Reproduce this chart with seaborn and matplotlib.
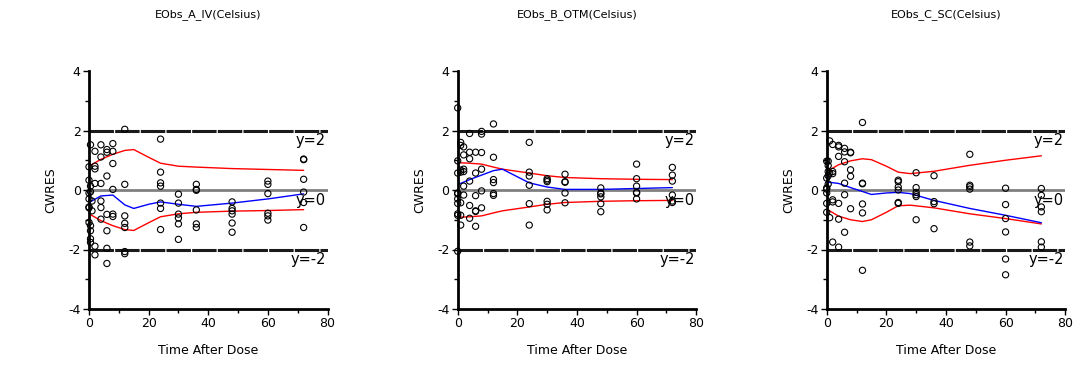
import matplotlib
matplotlib.use("Agg")
import matplotlib.pyplot as plt
from matplotlib.ticker import MultipleLocator
import seaborn as sns
import pandas as pd

sns.set_theme(style="white")
plt.rcParams['font.family'] = ['DejaVu Sans']
plt.rcParams['axes.unicode_minus'] = False

titles = ["EObs_A_IV(Celsius)", "EObs_B_OTM(Celsius)", "EObs_C_SC(Celsius)"]

# ---- Panel A ----
A_time = [0, 0, 0, 0, 0, 0, 0, 0.5, 0.5, 0.5, 0.5, 0.5, 0.5, 0.5, 1, 1,
          2, 2, 2, 2, 2, 2,
          4, 4, 4, 4, 4, 4,
          6, 6, 6, 6, 6, 6, 6,
          8, 8, 8, 8, 8, 8,
          12, 12, 12, 12, 12, 12, 12,
          24, 24, 24, 24, 24, 24, 24,
          30, 30, 30, 30, 30, 30,
          36, 36, 36, 36, 36, 36,
          48, 48, 48, 48, 48, 48,
          60, 60, 60, 60, 60, 60,
          72, 72, 72, 72, 72, 72]
A_cwres = [0.78, 0.33, -0.1, -0.3, -0.57, -1.09, -0.6, 1.52, 0.13, -0.06, -1.2, -1.37, -1.64, -1.76, -0.37, -0.7,
           1.3, 0.8, 0.71, 0.22, -1.89, -2.18,
           1.52, 1.11, 0.22, -0.37, -0.59, -0.98,
           1.36, 1.27, 0.47, -0.82, -1.37, -1.96, -2.47,
           1.56, 1.3, 0.89, 0.02, -0.81, -0.89,
           2.04, 0.19, -0.87, -1.12, -1.26, -2.07, -2.14,
           1.71, 0.6, 0.24, 0.13, -0.44, -0.62, -1.33,
           -0.14, -0.44, -0.81, -0.94, -1.14, -1.66,
           0.19, 0.02, -0.01, -0.67, -1.14, -1.26,
           -0.4, -0.62, -0.7, -0.81, -1.11, -1.42,
           0.3, 0.19, -0.12, -0.78, -0.87, -1.01,
           1.04, 1.02, 0.36, -0.07, -0.42, -1.26]
A_line_t = [0, 4, 8, 12, 15, 20, 24, 30, 36, 48, 60, 72]
A_upper = [0.8, 1.03, 1.2, 1.33, 1.36, 1.1, 0.9, 0.8, 0.77, 0.72, 0.69, 0.66]
A_median = [-0.42, -0.2, -0.17, -0.5, -0.62, -0.48, -0.4, -0.48, -0.55, -0.44, -0.3, -0.13]
A_lower = [-0.8, -1.03, -1.2, -1.33, -1.36, -1.1, -0.9, -0.8, -0.75, -0.71, -0.69, -0.66]

# ---- Panel B ----
B_time = [0, 0, 0, 0, 0, 0, 0, 0, 0, 0,
          1, 1, 1, 1, 1, 1, 1,
          2, 2, 2, 2, 2, 2,
          4, 4, 4, 4, 4, 4,
          6, 6, 6, 6, 6, 6,
          8, 8, 8, 8, 8, 8,
          12, 12, 12, 12, 12, 12,
          24, 24, 24, 24, 24, 24,
          30, 30, 30, 30, 30, 30,
          36, 36, 36, 36, 36,
          48, 48, 48, 48, 48, 48,
          60, 60, 60, 60, 60, 60,
          72, 72, 72, 72, 72, 72]
B_cwres = [2.76, 0.98, 0.57, -0.1, -0.13, -0.3, -0.45, -0.8, -0.85, -2.06,
           1.6, 1.5, 0.67, 0.6, -0.43, -0.85, -1.18,
           1.45, 1.18, 0.7, 0.62, 0.13, -0.17,
           1.9, 1.27, 1.05, 0.3, -0.52, -0.95,
           1.27, 0.57, -0.19, -0.7, -0.72, -1.22,
           1.97, 1.88, 1.26, 0.7, -0.03, -0.6,
           2.22, 1.1, 0.35, 0.25, -0.12, -0.18,
           1.6, 0.6, 0.47, 0.16, -0.46, -1.18,
           0.38, 0.33, 0.28, -0.38, -0.48, -0.67,
           0.53, 0.28, 0.26, -0.1, -0.43,
           0.07, -0.1, -0.13, -0.23, -0.46, -0.73,
           0.87, 0.38, 0.13, -0.08, -0.1, -0.3,
           0.76, 0.5, 0.3, -0.17, -0.37, -0.42]
B_line_t = [0, 4, 8, 12, 15, 24, 30, 36, 48, 60, 72]
B_upper = [0.92, 0.9, 0.87, 0.77, 0.7, 0.57, 0.48, 0.42, 0.38, 0.36, 0.35]
B_median = [0.18, 0.35, 0.5, 0.65, 0.7, 0.24, 0.1, 0.02, 0.02, 0.05, 0.08]
B_lower = [-0.92, -0.9, -0.87, -0.77, -0.7, -0.57, -0.48, -0.42, -0.38, -0.36, -0.35]

# ---- Panel C ----
C_time = [0, 0, 0, 0, 0, 0, 0,
          0.5, 0.5, 0.5, 0.5, 0.5,
          1, 1, 1,
          2, 2, 2, 2, 2, 2,
          4, 4, 4, 4, 4, 4,
          6, 6, 6, 6, 6, 6,
          8, 8, 8, 8, 8,
          12, 12, 12, 12, 12, 12,
          24, 24, 24, 24, 24, 24,
          30, 30, 30, 30, 30, 30,
          36, 36, 36, 36,
          48, 48, 48, 48, 48, 48,
          60, 60, 60, 60, 60, 60,
          72, 72, 72, 72, 72, 72]
C_cwres = [0.97, 0.4, 0.07, 0.03, -0.1, -0.45, -0.75,
           0.97, 0.82, 0.62, 0.48, 0.2,
           1.65, 0.57, -0.93,
           1.53, 0.62, 0.55, -0.33, -0.4, -1.75,
           1.5, 1.45, 1.13, -0.45, -0.98, -1.92,
           1.4, 1.28, 0.95, 0.23, -0.16, -1.42,
           1.27, 1.25, 0.68, 0.46, -0.63,
           2.27, 0.23, 0.21, -0.47, -0.77, -2.7,
           0.33, 0.28, 0.1, 0.0, -0.42, -0.45,
           0.58, 0.08, -0.08, -0.16, -0.22, -1.0,
           0.48, -0.39, -0.46, -1.3,
           1.2, 0.16, 0.11, 0.03, -1.75, -1.88,
           0.06, -0.49, -0.96, -1.41, -2.32, -2.85,
           0.05, -0.18, -0.57, -0.73, -1.74, -1.92]
C_line_t = [0, 4, 8, 12, 15, 20, 24, 28, 36, 48, 60, 72]
C_upper = [0.62, 0.85, 0.98, 1.05, 1.02, 0.8, 0.6, 0.55, 0.63, 0.83, 1.0, 1.15]
C_median = [0.27, 0.22, 0.08, -0.05, -0.15, -0.1, -0.08, -0.12, -0.35, -0.62, -0.85, -1.1]
C_lower = [-0.64, -0.88, -1.0, -1.06, -1.0, -0.75, -0.53, -0.51, -0.6, -0.8, -0.96, -1.14]

panels = [
    (A_time, A_cwres, A_line_t, A_upper, A_median, A_lower),
    (B_time, B_cwres, B_line_t, B_upper, B_median, B_lower),
    (C_time, C_cwres, C_line_t, C_upper, C_median, C_lower),
]

W, H = 1077, 371
fig = plt.figure(figsize=(W / 100, H / 100), dpi=100)
lefts = [89, 457.7, 826.7]
ax_w = 238.5
ax_bottom_px = 309
ax_top_px = 71

for i, (t, c, lt, up, med, lo) in enumerate(panels):
    ax = fig.add_axes([lefts[i] / W, 1 - ax_bottom_px / H, ax_w / W, (ax_bottom_px - ax_top_px) / H])
    ax.set_facecolor("white")
    ax.axhline(2, color="#1a1a1a", lw=2.2, ls=(0, (8, 0.4)), zorder=1)
    ax.axhline(-2, color="#1a1a1a", lw=2.2, ls=(0, (8, 0.4)), zorder=1)
    ax.axhline(0, color="#808080", lw=2, zorder=1)

    df = pd.DataFrame({"t": t, "c": c})
    sns.scatterplot(data=df, x="t", y="c", ax=ax, marker="o", s=20,
                    facecolors="none", edgecolor="black", linewidth=0.8, zorder=3,
                    clip_on=False)
    ldf = pd.DataFrame({"t": lt, "up": up, "med": med, "lo": lo})
    sns.lineplot(data=ldf, x="t", y="up", ax=ax, color="red", lw=1, zorder=2)
    sns.lineplot(data=ldf, x="t", y="lo", ax=ax, color="red", lw=1, zorder=2)
    sns.lineplot(data=ldf, x="t", y="med", ax=ax, color="blue", lw=1, zorder=2)

    ax.set_xlim(0, 80)
    ax.set_ylim(-4, 4)
    ax.xaxis.set_major_locator(MultipleLocator(20))
    ax.xaxis.set_minor_locator(MultipleLocator(10))
    ax.yaxis.set_major_locator(MultipleLocator(2))
    ax.yaxis.set_minor_locator(MultipleLocator(1))
    ax.tick_params(which="major", direction="out", length=4, width=1, color="black",
                   labelsize=9, labelcolor="black", bottom=True, left=True, pad=2)
    ax.tick_params(which="minor", direction="out", length=3, width=1, color="black",
                   bottom=True, left=True)
    for s in ["top", "right"]:
        ax.spines[s].set_visible(False)
    for s in ["left", "bottom"]:
        ax.spines[s].set_color("black")
        ax.spines[s].set_linewidth(2)
    ax.set_xlabel("Time After Dose", fontsize=9, color="black", labelpad=10)
    ax.set_ylabel("CWRES", fontsize=9, color="black", labelpad=8)
    ax.text(79.5, 1.9, "y=2", ha="right", va="top", fontsize=10.5, color="black", zorder=4)
    ax.text(79.5, -0.1, "y=0", ha="right", va="top", fontsize=10.5, color="black", zorder=4)
    ax.text(79.5, -2.1, "y=-2", ha="right", va="top", fontsize=10.5, color="black", zorder=4)
    ax.text(0.5, 1 + 56 / 238, titles[i], transform=ax.transAxes, ha="center",
            va="center", fontsize=8, color="black")

fig.savefig("out.png", dpi=100, facecolor="white")
